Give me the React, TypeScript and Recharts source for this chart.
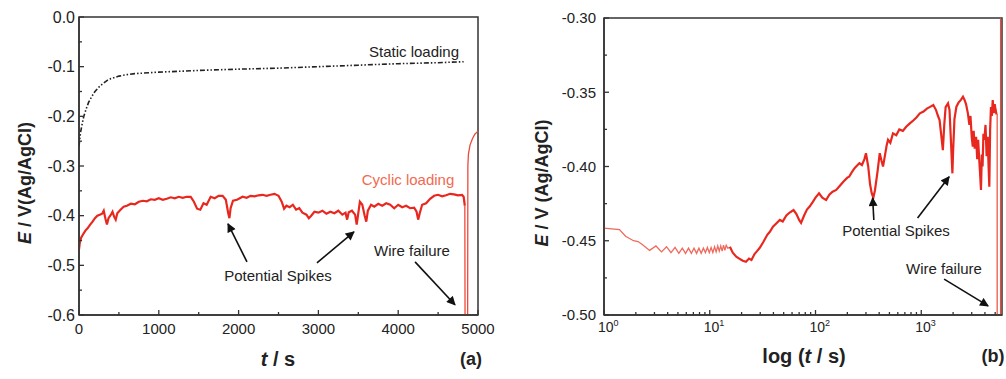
import React from "react";
import { LineChart, Line, XAxis, YAxis, ReferenceArea, ReferenceLine } from "recharts";

const FONT = '"Liberation Sans", Arial, sans-serif';
const AXIS = "#333";
const RED = "#e8281f";

// (a) potential vs time, cyclic loading
const cyclicTimeA = [
  0, 10, 25, 50, 80, 110, 140, 170, 200, 230, 260, 290, 310, 330, 350, 370, 400, 420, 440, 460, 480, 520, 560, 600,
  650, 700, 750, 800, 850, 900, 950, 1000, 1050, 1100, 1150, 1200, 1250, 1300, 1350, 1400, 1440, 1480, 1520, 1560,
  1600, 1650, 1700, 1750, 1800, 1840, 1870, 1885, 1900, 1930, 1980, 2050, 2100, 2150, 2200, 2250, 2300, 2350, 2400,
  2450, 2500, 2540, 2570, 2600, 2640, 2680, 2720, 2760, 2800, 2850, 2880, 2910, 2950, 3000, 3050, 3100, 3150, 3200,
  3250, 3300, 3340, 3360, 3380, 3420, 3460, 3480, 3500, 3520, 3550, 3580, 3600, 3620, 3660, 3700, 3750, 3800, 3850,
  3900, 3950, 4000, 4050, 4100, 4150, 4200, 4230, 4250, 4270, 4300, 4350, 4400, 4450, 4500, 4550, 4600, 4650, 4700,
  4750, 4800, 4820, 4835,
];
const cyclicPotA = [
  -0.468, -0.455, -0.445, -0.438, -0.43, -0.425, -0.418, -0.412, -0.405, -0.4, -0.398, -0.396, -0.39, -0.405, -0.418,
  -0.405, -0.398, -0.392, -0.402, -0.408, -0.395, -0.388, -0.382, -0.38, -0.376, -0.377, -0.372, -0.37, -0.371,
  -0.367, -0.368, -0.365, -0.368, -0.366, -0.363, -0.365, -0.362, -0.364, -0.362, -0.362, -0.372, -0.386, -0.388,
  -0.375, -0.378, -0.362, -0.365, -0.36, -0.36, -0.368, -0.395, -0.405, -0.385, -0.37, -0.368, -0.362, -0.364,
  -0.36, -0.361, -0.359, -0.358, -0.36, -0.358, -0.356, -0.36, -0.372, -0.386, -0.38, -0.383, -0.378, -0.388,
  -0.385, -0.394, -0.398, -0.405, -0.4, -0.392, -0.394, -0.39, -0.396, -0.392, -0.395, -0.39, -0.398, -0.394,
  -0.408, -0.393, -0.39, -0.398, -0.418, -0.395, -0.372, -0.378, -0.4, -0.412, -0.39, -0.378, -0.382, -0.376, -0.38,
  -0.375, -0.378, -0.385, -0.378, -0.383, -0.38, -0.385, -0.384, -0.392, -0.408, -0.395, -0.378, -0.375, -0.366,
  -0.36, -0.358, -0.361, -0.359, -0.356, -0.357, -0.359, -0.358, -0.362, -0.38,
];
// (a) wire failure drop and recovery
const failTimeA = [4835, 4838, 4870, 4873, 4880, 4900, 4930, 4960, 5000];
const failPotA = [-0.38, -0.62, -0.62, -0.3, -0.276, -0.258, -0.245, -0.236, -0.23];

// (a) static loading
const staticTimeA = [
  0, 10, 20, 40, 60, 90, 120, 160, 200, 250, 300, 350, 400, 500, 600, 700, 800, 1000, 1300, 1600, 2000, 2500, 3000,
  3500, 4000, 4500, 4820,
];
const staticPotA = [
  -0.26, -0.245, -0.232, -0.215, -0.2, -0.185, -0.172, -0.16, -0.15, -0.141, -0.134, -0.128, -0.124, -0.119, -0.116,
  -0.114, -0.113, -0.111, -0.109, -0.107, -0.105, -0.103, -0.1, -0.097, -0.094, -0.092, -0.09,
];

// (b) log time, first seconds
const earlyTimeB = [
  1, 1.4, 1.6, 1.9, 2.1, 2.3, 2.7, 3.1, 3.5, 3.9, 4.3, 4.7, 5.1, 5.5, 5.9, 6.3, 6.7, 7.1, 7.5, 7.9, 8.3, 8.7, 9.1, 9.5,
  9.9, 10.3, 10.7, 11.1, 11.5, 11.9, 12.3, 12.7, 13.1, 13.5, 13.9, 14.3, 14.8, 15.5,
];
const earlyPotB = [
  -0.4415, -0.4425, -0.447, -0.45, -0.4505, -0.4525, -0.4565, -0.4535, -0.4575, -0.454, -0.458, -0.4545, -0.4585,
  -0.455, -0.4585, -0.455, -0.4585, -0.455, -0.4585, -0.455, -0.4585, -0.455, -0.458, -0.4545, -0.458, -0.4545,
  -0.458, -0.454, -0.4575, -0.4535, -0.457, -0.4535, -0.457, -0.453, -0.4565, -0.453, -0.455, -0.4545,
];

// (b) log time, rest of the test
const lateTimeB = [
  15.5, 16.5, 17.8, 19, 20.5, 22, 23.5, 24.8, 26.5, 28, 29.6, 32, 35, 37, 39.6, 43, 46, 49, 53, 57, 62, 66, 70, 73, 78,
  83, 88, 94, 100, 108, 116, 126, 135, 145, 157, 170, 185, 200, 208, 220, 235, 250, 260, 275, 290, 300, 315, 328, 340,
  352, 365, 385, 405, 420, 435, 455, 470, 485, 510, 540, 580, 620, 670, 720, 780, 840, 900, 970, 1050, 1130, 1200,
  1300, 1380, 1440, 1490, 1540, 1600, 1650, 1700, 1790, 1850, 1900, 1970, 2000, 2060, 2150, 2250, 2380, 2480, 2560,
  2650, 2760, 2850, 2920, 3000, 3070, 3130, 3200, 3300, 3380, 3450, 3550, 3600, 3670, 3740, 3800, 3870, 3950, 4050,
  4150, 4250, 4330, 4400, 4480, 4560, 4650, 4740, 4850, 4950, 5050, 5150,
];
const latePotB = [
  -0.454, -0.458, -0.4607, -0.462, -0.4635, -0.4641, -0.462, -0.463, -0.459, -0.457, -0.4549, -0.451, -0.446, -0.444,
  -0.4405, -0.438, -0.436, -0.437, -0.433, -0.431, -0.4293, -0.432, -0.436, -0.438, -0.433, -0.429, -0.427, -0.424,
  -0.421, -0.418, -0.421, -0.4226, -0.419, -0.417, -0.4158, -0.413, -0.41, -0.4075, -0.4069, -0.404, -0.401, -0.399,
  -0.3978, -0.399, -0.395, -0.3911, -0.4, -0.412, -0.418, -0.421, -0.416, -0.404, -0.391, -0.396, -0.4, -0.392,
  -0.386, -0.382, -0.384, -0.3777, -0.379, -0.375, -0.376, -0.3732, -0.371, -0.369, -0.367, -0.3642, -0.363, -0.361,
  -0.36, -0.3586, -0.362, -0.366, -0.3687, -0.378, -0.389, -0.372, -0.36, -0.3575, -0.362, -0.38, -0.4046, -0.39,
  -0.368, -0.3597, -0.357, -0.355, -0.353, -0.355, -0.358, -0.3642, -0.372, -0.366, -0.38, -0.3867, -0.376, -0.388,
  -0.38, -0.395, -0.382, -0.398, -0.405, -0.4158, -0.392, -0.4, -0.378, -0.382, -0.372, -0.393, -0.38, -0.4, -0.4136,
  -0.375, -0.36, -0.366, -0.3552, -0.364, -0.358, -0.362, -0.365,
];
// (b) wire failure drop and recovery
const failTimeB = [5150, 5220, 5220, 5620, 5620];
const failPotB = [-0.365, -0.365, -0.62, -0.62, -0.23];

const xTicksA = [0, 500, 1000, 1500, 2000, 2500, 3000, 3500, 4000, 4500, 5000];
const yTicksA = [-0.6, -0.55, -0.5, -0.45, -0.4, -0.35, -0.3, -0.25, -0.2, -0.15, -0.1, -0.05, 0];
const xTicksB = [
  1, 2, 3, 4, 5, 6, 7, 8, 9, 10, 20, 30, 40, 50, 60, 70, 80, 90, 100, 200, 300, 400, 500, 600, 700, 800, 900, 1000,
  2000, 3000, 4000, 5000,
];
const yTicksB = [-0.5, -0.475, -0.45, -0.425, -0.4, -0.375, -0.35, -0.325, -0.3];

// annotation arrows, [tail t, tail E, head t, head E]
const arrowsA = [
  [2105, -0.493, 1867, -0.4165],
  [2982, -0.495, 3446, -0.4326],
  [4211, -0.493, 4712, -0.5795],
];
const arrowsB = [
  [356, -0.436, 347, -0.4212],
  [923, -0.4347, 1835, -0.4069],
  [1645, -0.4758, 4290, -0.4939],
];

const zip = (ts: number[], es: number[]) => ts.map((t, i) => ({ t, E: es[i] }));
const isMajor = (v: number, step: number) => Math.abs(v / step - Math.round(v / step)) < 1e-6;

function YTick(props: any) {
  const { x, y, payload, step, digits, size, gap } = props;
  const v = payload.value;
  const major = isMajor(v, step);
  return (
    <g>
      <line x1={x} x2={x + (major ? 5 : 3)} y1={y} y2={y} stroke={AXIS} strokeWidth={1.3} />
      {major && (
        <text x={x - gap} y={y} dy="0.36em" textAnchor="end" fontSize={size} fill="#222" fontFamily={FONT}>
          {v.toFixed(digits)}
        </text>
      )}
    </g>
  );
}

function XTickLin(props: any) {
  const { x, y, payload } = props;
  const v = payload.value;
  const major = isMajor(v, 1000);
  return (
    <g>
      <line x1={x} x2={x} y1={y} y2={y - (major ? 5 : 3)} stroke={AXIS} strokeWidth={1.3} />
      {major && (
        <text x={x} y={y + 19} textAnchor="middle" fontSize={15} fill="#222" fontFamily={FONT}>
          {v}
        </text>
      )}
    </g>
  );
}

function XTickLog(props: any) {
  const { x, y, payload } = props;
  const v = payload.value;
  const exp = Math.log10(v);
  const major = Math.abs(exp - Math.round(exp)) < 1e-6;
  return (
    <g>
      <line x1={x} x2={x} y1={y} y2={y - (major ? 5 : 3)} stroke={AXIS} strokeWidth={1.3} />
      {major && (
        <text x={x - 6} y={y + 17} textAnchor="start" fontSize={14} fill="#222" fontFamily={FONT}>
          <tspan>10</tspan>
          <tspan dy={-6} fontSize={9}>
            {Math.round(exp)}
          </tspan>
        </text>
      )}
    </g>
  );
}

function Note({ x, y, size = 15, color = "#222", bold = false, rotate = false, children }: any) {
  return (
    <div
      style={{
        position: "absolute",
        left: x,
        top: y,
        transform: `translate(-50%, -50%)${rotate ? " rotate(-90deg)" : ""}`,
        fontSize: size,
        fontWeight: bold ? 700 : 400,
        color,
        whiteSpace: "nowrap",
        lineHeight: 1,
        fontFamily: FONT,
      }}
    >
      {children}
    </div>
  );
}

export default function App() {
  const cyclicA = zip(cyclicTimeA, cyclicPotA);
  const failA = zip(failTimeA, failPotA);
  const staticA = zip(staticTimeA, staticPotA);
  const earlyB = zip(earlyTimeB, earlyPotB);
  const lateB = zip(lateTimeB, latePotB);
  const failB = zip(failTimeB, failPotB);

  return (
    <div style={{ position: "absolute", left: 0, top: 0, width: 1006, height: 379, background: "#fff", fontFamily: FONT }}>
      <svg width={0} height={0} style={{ position: "absolute" }}>
        <defs>
          <marker id="arrowHead" viewBox="0 0 10 10" refX="9" refY="5" markerWidth="10" markerHeight="9"
            markerUnits="userSpaceOnUse" orient="auto">
            <path d="M0,0 L10,5 L0,10 z" fill="#111" />
          </marker>
        </defs>
      </svg>

      <div style={{ position: "absolute", left: 0, top: 0 }}>
        <LineChart width={500} height={379} margin={{ top: 17, right: 22, bottom: 0, left: 0 }}>
          <XAxis type="number" dataKey="t" domain={[0, 5000]} ticks={xTicksA} interval={0} height={64}
            allowDataOverflow stroke={AXIS} strokeWidth={1.5} tickSize={0} tickMargin={0} tickLine={false}
            tick={(p: any) => <XTickLin {...p} />} />
          <YAxis type="number" domain={[-0.6, 0]} ticks={yTicksA} interval={0} width={79} allowDataOverflow
            stroke={AXIS} strokeWidth={1.5} tickSize={0} tickMargin={0} tickLine={false}
            tick={(p: any) => <YTick {...p} step={0.1} digits={1} size={16} gap={4} />} />
          <ReferenceArea x1={0} x2={5000} y1={-0.6} y2={0} fill="none" stroke={AXIS} strokeWidth={1.5} />
          <Line data={staticA} dataKey="E" stroke="#222" strokeWidth={1.6} strokeDasharray="5 2 1.5 2 1.5 2"
            dot={false} isAnimationActive={false} />
          <Line data={cyclicA} dataKey="E" stroke={RED} strokeWidth={2.2} dot={false} isAnimationActive={false} />
          <Line data={failA} dataKey="E" stroke="#ec4a3c" strokeWidth={1.3} dot={false} isAnimationActive={false} />
          {arrowsA.map((a, i) => (
            <ReferenceLine key={i} segment={[{ x: a[0], y: a[1] }, { x: a[2], y: a[3] }]} stroke="#111"
              strokeWidth={1.6} markerEnd="url(#arrowHead)" ifOverflow="visible" />
          ))}
        </LineChart>
      </div>

      <div style={{ position: "absolute", left: 500, top: 0 }}>
        <LineChart width={506} height={379} margin={{ top: 18, right: 4, bottom: 0, left: 0 }}>
          <XAxis type="number" dataKey="t" scale="log" domain={[1, 5800]} ticks={xTicksB} interval={0} height={64}
            allowDataOverflow stroke={AXIS} strokeWidth={1.5} tickSize={0} tickMargin={0} tickLine={false}
            tick={(p: any) => <XTickLog {...p} />} />
          <YAxis type="number" domain={[-0.5, -0.3]} ticks={yTicksB} interval={0} width={104} allowDataOverflow
            stroke={AXIS} strokeWidth={1.5} tickSize={0} tickMargin={0} tickLine={false}
            tick={(p: any) => <YTick {...p} step={0.05} digits={2} size={15} gap={8} />} />
          <ReferenceArea x1={1} x2={5800} y1={-0.5} y2={-0.3} fill="none" stroke={AXIS} strokeWidth={1.5} />
          <Line data={earlyB} dataKey="E" stroke="#ee6a5c" strokeWidth={1.3} dot={false} isAnimationActive={false} />
          <Line data={lateB} dataKey="E" stroke={RED} strokeWidth={2.2} dot={false} isAnimationActive={false} />
          <Line data={failB} dataKey="E" stroke="#ec4a3c" strokeWidth={1.2} dot={false} isAnimationActive={false} />
          {arrowsB.map((a, i) => (
            <ReferenceLine key={i} segment={[{ x: a[0], y: a[1] }, { x: a[2], y: a[3] }]} stroke="#111"
              strokeWidth={1.6} markerEnd="url(#arrowHead)" ifOverflow="visible" />
          ))}
        </LineChart>
      </div>

      {/* panel (a) text */}
      <Note x={25} y={183} size={18} bold rotate>
        <i>E</i> / V(Ag/AgCl)
      </Note>
      <Note x={278} y={359} size={20} bold>
        <i>t</i> / s
      </Note>
      <Note x={471} y={359} size={18} bold>(a)</Note>
      <Note x={414} y={51}>Static loading</Note>
      <Note x={408} y={179} color="#f26a50">Cyclic loading</Note>
      <Note x={278} y={275}>Potential Spikes</Note>
      <Note x={412} y={250}>Wire failure</Note>

      {/* panel (b) text */}
      <Note x={542} y={183} size={18} bold rotate>
        <i>E</i> / V (Ag/AgCl)
      </Note>
      <Note x={804} y={356} size={20} bold>
        log (<i>t</i> / s)
      </Note>
      <Note x={993} y={356} size={18} bold>(b)</Note>
      <Note x={896} y={230}>Potential Spikes</Note>
      <Note x={944} y={268}>Wire failure</Note>
    </div>
  );
}
